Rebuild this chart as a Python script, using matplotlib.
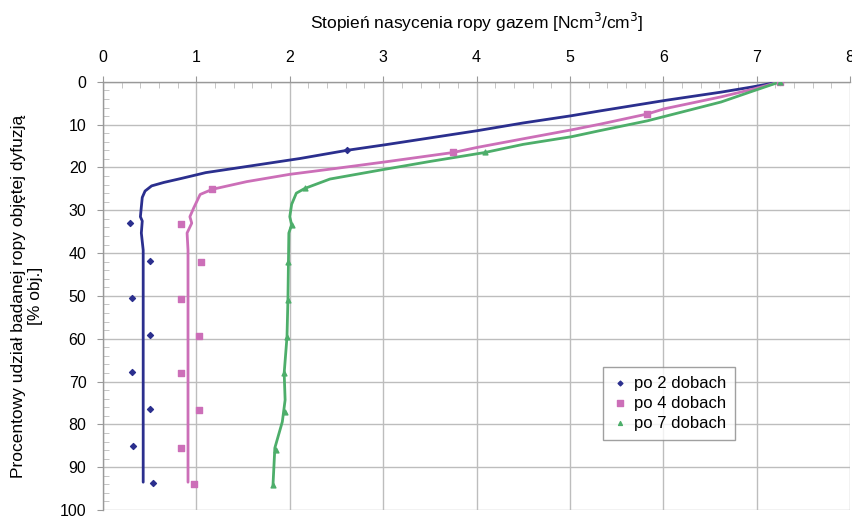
import matplotlib
matplotlib.use("Agg")
import matplotlib.pyplot as plt
from matplotlib.ticker import MultipleLocator

plt.rcParams['font.family'] = ['Liberation Sans', 'DejaVu Sans']

# Curves (x = saturation, y = % volume)
blue_x = [7.25, 6.95, 6.62, 6.03, 5.32, 5.02, 4.5, 4.01, 3.5, 3.02, 2.61, 2.11, 1.5, 1.1, 0.85, 0.65, 0.52, 0.45, 0.42, 0.40, 0.42, 0.41, 0.43, 0.43]
blue_y = [0, 1.2, 2.4, 4.3, 6.8, 7.9, 9.6, 11.4, 13.1, 14.7, 16.0, 17.9, 19.9, 21.2, 22.5, 23.5, 24.3, 25.5, 27.0, 31.5, 32.5, 35.3, 39.3, 93.5]

pink_x = [7.25, 6.98, 6.62, 6.01, 5.83, 5.32, 5.02, 4.5, 4.01, 3.75, 3.02, 2.5, 2.0, 1.54, 1.17, 1.04, 0.97, 0.93, 0.95, 0.90, 0.91, 0.91]
pink_y = [0, 1.6, 3.5, 6.3, 7.5, 9.9, 11.2, 13.3, 15.3, 16.5, 18.7, 20.2, 21.6, 23.3, 25.1, 26.3, 29.5, 31.5, 33.0, 35.3, 39.3, 93.5]

green_x = [7.25, 6.98, 6.62, 6.19, 5.83, 5.32, 5.02, 4.5, 4.09, 3.5, 2.97, 2.43, 2.16, 2.07, 2.02, 2.0, 2.02, 1.99, 1.98, 1.97, 1.94, 1.95, 1.92, 1.84, 1.82]
green_y = [0, 2.0, 4.7, 7.1, 9.1, 11.4, 12.8, 14.6, 16.5, 18.6, 20.6, 22.7, 24.9, 26.0, 28.6, 31.5, 33.4, 35.3, 50.9, 59.6, 68.0, 74.3, 79.4, 85.5, 94.2]

# Measurement markers
m2_x = [7.25, 2.61, 0.29, 0.50, 0.31, 0.50, 0.31, 0.50, 0.32, 0.54]
m2_y = [0, 16.0, 33.0, 41.8, 50.5, 59.1, 67.8, 76.4, 85.0, 93.7]
m4_x = [7.25, 5.83, 3.75, 1.17, 0.84, 1.05, 0.84, 1.03, 0.84, 1.03, 0.84, 0.97]
m4_y = [0, 7.5, 16.3, 25.1, 33.2, 42.0, 50.7, 59.3, 68.1, 76.7, 85.5, 94.0]
m7_x = [7.25, 4.09, 2.16, 2.02, 1.985, 1.98, 1.97, 1.94, 1.95, 1.85, 1.82]
m7_y = [0, 16.5, 24.9, 33.4, 42.0, 50.9, 59.6, 68.0, 77.0, 86.0, 94.2]

labels = ["po 2 dobach", "po 4 dobach", "po 7 dobach"]
c_blue, c_pink, c_green = "#2B2F8E", "#CC6FB8", "#4DAE6A"

fig = plt.figure(figsize=(8.53, 5.19), dpi=100)
ax = fig.add_axes([0.1208, 0.0173, 0.8757, 0.825])

for xs, ys, c in ((blue_x, blue_y, c_blue), (pink_x, pink_y, c_pink), (green_x, green_y, c_green)):
    ax.plot(xs, ys, color=c, lw=2.0, zorder=3, solid_joinstyle="round", solid_capstyle="round")

ax.scatter(m2_x, m2_y, marker="D", s=9, color=c_blue, zorder=4, label=labels[0])
ax.scatter(m4_x, m4_y, marker="s", s=22, color=c_pink, zorder=4, label=labels[1])
ax.scatter(m7_x, m7_y, marker="^", s=12, color=c_green, zorder=4, label=labels[2])

ax.set_xlim(0, 8)
ax.set_ylim(100, 0)
ax.xaxis.tick_top()
ax.xaxis.set_label_position("top")
ax.xaxis.set_major_locator(MultipleLocator(1))
ax.xaxis.set_minor_locator(MultipleLocator(0.2))
ax.yaxis.set_major_locator(MultipleLocator(10))
ax.yaxis.set_minor_locator(MultipleLocator(2))
ax.grid(True, which="major", color="#BDBDBD", lw=1.0, zorder=0)
ax.tick_params(which="major", direction="out", length=4, color="#999999", labelsize=11.5, pad=8)
ax.tick_params(which="minor", direction="in", length=4, color="#BBBBBB")
for side in ("right", "bottom"):
    ax.spines[side].set_visible(False)
for side in ("left", "top"):
    ax.spines[side].set_color("#999999")
    ax.spines[side].set_linewidth(1.0)

ax.set_xlabel("Stopień nasycenia ropy gazem [Ncm$^3$/cm$^3$]", fontsize=12.5, labelpad=15)
ax.set_ylabel("Procentowy udział badanej ropy objętej dyfuzją\n[% obj.]", fontsize=12.5, labelpad=12)

leg = ax.legend(loc="lower right", bbox_to_anchor=(0.846, 0.1636), borderaxespad=0, fontsize=12,
                frameon=True, fancybox=False, edgecolor="#888888", handletextpad=0.3,
                handlelength=1.0, borderpad=0.55, labelspacing=0.3, markerscale=0.8)
leg.get_frame().set_linewidth(1.0)

fig.savefig("out.png", dpi=100)
